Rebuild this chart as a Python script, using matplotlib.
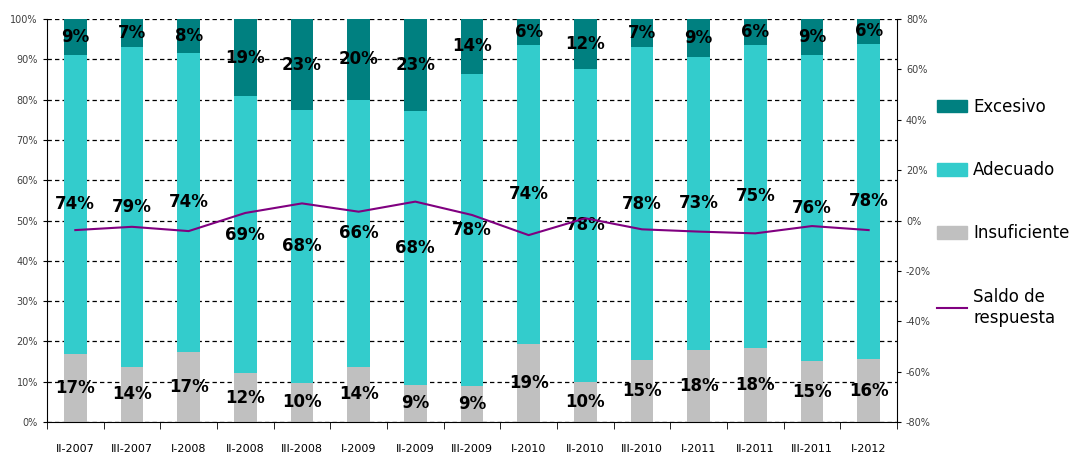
import matplotlib
matplotlib.use('Agg')
import matplotlib.pyplot as plt
import matplotlib.ticker as plticker
from matplotlib.patches import Patch
from matplotlib.lines import Line2D

# data (percent)
periods = ['II-2007', 'III-2007', 'I-2008', 'II-2008', 'III-2008', 'I-2009', 'II-2009',
           'III-2009', 'I-2010', 'II-2010', 'III-2010', 'I-2011', 'II-2011', 'III-2011',
           'I-2012']
insuficiente = [17.0, 13.7, 17.4, 12.1, 9.8, 13.7, 9.3, 8.9, 19.4, 10.0, 15.4, 17.9, 18.4, 15.1, 15.6]
adecuado     = [74.1, 79.3, 74.2, 68.8, 67.6, 66.3, 67.8, 77.5, 74.2, 77.7, 77.6, 72.7, 75.2, 76.0, 78.3]
excesivo     = [8.9, 7.0, 8.4, 19.1, 22.6, 20.0, 22.9, 13.6, 6.4, 12.3, 7.0, 9.4, 6.4, 8.9, 6.1]
saldo        = [-3.8, -2.5, -4.2, 3.0, 6.8, 3.5, 7.5, 2.2, -5.8, 0.9, -3.5, -4.4, -5.1, -2.2, -3.8]

COL_INS   = '#C0C0C0'
COL_ADE   = '#33CCCC'
COL_EXC   = '#008080'
COL_LINE  = '#800080'
BAR_WIDTH = 0.4
LABEL_FS  = 12
TICK_FS   = 7

fig = plt.figure(figsize=(10.75, 4.55), dpi=100)
ax = fig.add_axes([0.0437, 0.0725, 0.7907, 0.8857])

x = list(range(len(periods)))
bottoms2 = [a + b for a, b in zip(insuficiente, adecuado)]

ax.bar(x, insuficiente, width=BAR_WIDTH, color=COL_INS, zorder=2)
ax.bar(x, adecuado, width=BAR_WIDTH, bottom=insuficiente, color=COL_ADE, zorder=2)
ax.bar(x, excesivo, width=BAR_WIDTH, bottom=bottoms2, color=COL_EXC, zorder=2)

# segment labels
for i in x:
    ax.text(i, insuficiente[i] / 2, '%d%%' % round(insuficiente[i]), ha='center', va='center',
            fontsize=LABEL_FS, fontweight='bold', zorder=4)
    ax.text(i, insuficiente[i] + adecuado[i] / 2, '%d%%' % round(adecuado[i]), ha='center',
            va='center', fontsize=LABEL_FS, fontweight='bold', zorder=4)
    ax.text(i, bottoms2[i] + excesivo[i] / 2, '%d%%' % round(excesivo[i]), ha='center',
            va='center', fontsize=LABEL_FS, fontweight='bold', zorder=4)

ax.set_xlim(-0.5, len(periods) - 0.5)
ax.set_ylim(0, 100)
ax.yaxis.set_major_locator(plticker.MultipleLocator(10))
ax.yaxis.set_major_formatter(plticker.FuncFormatter(lambda v, p: '%d%%' % v))
ax.grid(axis='y', color='black', linestyle=(0, (3.5, 2.5)), linewidth=0.9, zorder=1)
ax.set_axisbelow(True)

ax.set_xticks(x)
ax.set_xticklabels(periods, fontsize=8)
ax.set_xticks([i + 0.5 for i in range(-1, len(periods))], minor=True)
ax.tick_params(axis='x', which='major', length=0, pad=16)
ax.tick_params(axis='x', which='minor', length=5, direction='out', color='black')
ax.tick_params(axis='y', labelsize=TICK_FS, labelcolor='#404040', length=3, direction='out')
ax.spines['top'].set_visible(False)
ax.spines['right'].set_visible(False)

# secondary axis for the balance line
ax2 = ax.twinx()
ax2.plot(x, saldo, color=COL_LINE, linewidth=1.5, zorder=3)
ax2.set_ylim(-80, 80)
ax2.yaxis.set_major_locator(plticker.MultipleLocator(20))
ax2.yaxis.set_major_formatter(plticker.FuncFormatter(lambda v, p: '%d%%' % v))
ax2.tick_params(axis='y', labelsize=TICK_FS, labelcolor='#404040', length=3, direction='out')
ax2.spines['top'].set_visible(False)
ax2.spines['left'].set_visible(False)
ax2.spines['bottom'].set_visible(False)

handles = [Patch(color=COL_EXC), Patch(color=COL_ADE), Patch(color=COL_INS),
           Line2D([], [], color=COL_LINE, linewidth=1.5)]
labels = ['Excesivo', 'Adecuado', 'Insuficiente', 'Saldo de\nrespuesta']
fig.legend(handles, labels, loc='upper left', bbox_to_anchor=(0.858, 0.818), frameon=False,
           fontsize=12, labelspacing=2.72, handlelength=1.8, handleheight=0.8,
           handletextpad=0.35)

fig.savefig('out.png', dpi=100)
